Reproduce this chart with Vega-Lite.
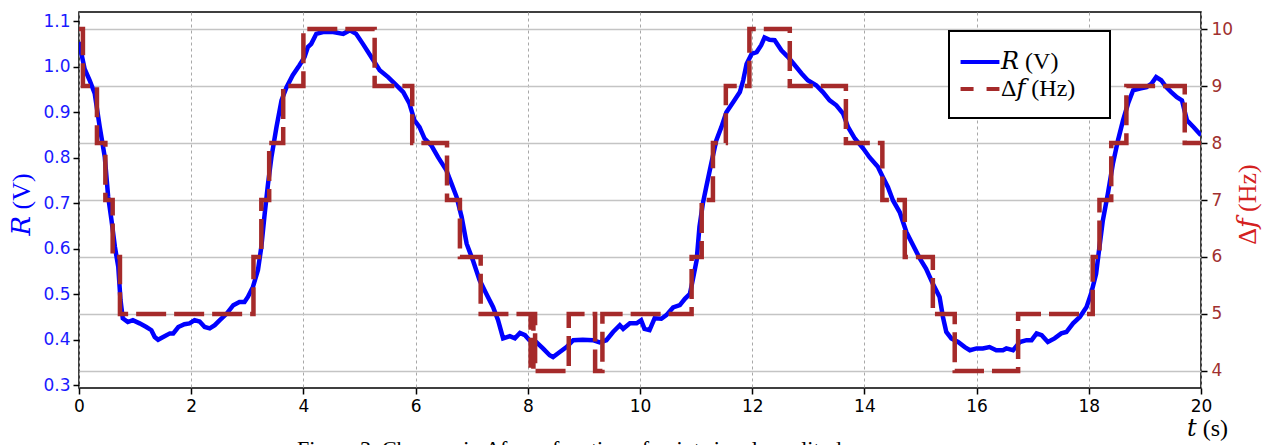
{
  "$schema": "https://vega.github.io/schema/vega-lite/v6.json",
  "width": 1122,
  "height": 376,
  "autosize": {"type": "none"},
  "padding": {"left": 79, "top": 12, "right": 66, "bottom": 57},
  "background": "white",
  "title": {
    "text": "Figure 3. Changes in Δf as a function of point signal amplitude",
    "orient": "bottom",
    "anchor": "start",
    "frame": "group",
    "font": "Liberation Serif",
    "fontSize": 22,
    "fontWeight": "normal",
    "color": "black",
    "baseline": "top",
    "dx": 218,
    "offset": -1
  },
  "config": {
    "view": {"stroke": "black", "strokeWidth": 1.5},
    "axis": {
      "labelFont": "DejaVu Sans",
      "labelFontSize": 17,
      "labelFlush": false,
      "tickColor": "black",
      "tickWidth": 1.5,
      "tickSize": 6,
      "domain": false,
      "titleFont": "Liberation Serif, DejaVu Serif",
      "titleFontWeight": "normal",
      "titleFontSize": 26
    }
  },
  "datasets": {
    "r": [
      {"t": 0.00, "R": 1.054}, {"t": 0.10, "R": 0.995}, {"t": 0.19, "R": 0.970}, {"t": 0.28, "R": 0.941},
      {"t": 0.37, "R": 0.867}, {"t": 0.46, "R": 0.801}, {"t": 0.52, "R": 0.714}, {"t": 0.58, "R": 0.662},
      {"t": 0.64, "R": 0.604}, {"t": 0.70, "R": 0.560}, {"t": 0.74, "R": 0.487}, {"t": 0.78, "R": 0.447},
      {"t": 0.87, "R": 0.439}, {"t": 0.96, "R": 0.443}, {"t": 1.08, "R": 0.436}, {"t": 1.20, "R": 0.428},
      {"t": 1.29, "R": 0.421}, {"t": 1.35, "R": 0.406}, {"t": 1.41, "R": 0.400}, {"t": 1.50, "R": 0.406},
      {"t": 1.62, "R": 0.414}, {"t": 1.68, "R": 0.414}, {"t": 1.77, "R": 0.428}, {"t": 1.88, "R": 0.434},
      {"t": 1.97, "R": 0.436}, {"t": 2.06, "R": 0.443}, {"t": 2.15, "R": 0.440}, {"t": 2.24, "R": 0.428},
      {"t": 2.33, "R": 0.425}, {"t": 2.42, "R": 0.432}, {"t": 2.51, "R": 0.443}, {"t": 2.63, "R": 0.457},
      {"t": 2.75, "R": 0.476}, {"t": 2.86, "R": 0.483}, {"t": 2.95, "R": 0.483}, {"t": 3.01, "R": 0.494},
      {"t": 3.10, "R": 0.516}, {"t": 3.19, "R": 0.553}, {"t": 3.25, "R": 0.604}, {"t": 3.31, "R": 0.677},
      {"t": 3.37, "R": 0.743}, {"t": 3.43, "R": 0.801}, {"t": 3.52, "R": 0.867}, {"t": 3.61, "R": 0.926},
      {"t": 3.70, "R": 0.955}, {"t": 3.81, "R": 0.981}, {"t": 3.93, "R": 1.003}, {"t": 4.02, "R": 1.021},
      {"t": 4.08, "R": 1.043}, {"t": 4.14, "R": 1.050}, {"t": 4.23, "R": 1.072}, {"t": 4.35, "R": 1.076},
      {"t": 4.53, "R": 1.076}, {"t": 4.71, "R": 1.072}, {"t": 4.83, "R": 1.080}, {"t": 4.94, "R": 1.072},
      {"t": 5.06, "R": 1.050}, {"t": 5.21, "R": 1.021}, {"t": 5.36, "R": 0.992}, {"t": 5.51, "R": 0.977},
      {"t": 5.66, "R": 0.959}, {"t": 5.78, "R": 0.944}, {"t": 5.89, "R": 0.919}, {"t": 5.98, "R": 0.882},
      {"t": 6.07, "R": 0.867}, {"t": 6.16, "R": 0.842}, {"t": 6.28, "R": 0.827}, {"t": 6.40, "R": 0.801},
      {"t": 6.55, "R": 0.772}, {"t": 6.64, "R": 0.743}, {"t": 6.73, "R": 0.714}, {"t": 6.82, "R": 0.670},
      {"t": 6.91, "R": 0.611}, {"t": 7.02, "R": 0.575}, {"t": 7.14, "R": 0.531}, {"t": 7.26, "R": 0.501},
      {"t": 7.38, "R": 0.472}, {"t": 7.47, "R": 0.443}, {"t": 7.56, "R": 0.403}, {"t": 7.68, "R": 0.408},
      {"t": 7.77, "R": 0.403}, {"t": 7.86, "R": 0.415}, {"t": 7.95, "R": 0.410}, {"t": 8.03, "R": 0.399},
      {"t": 8.15, "R": 0.395}, {"t": 8.27, "R": 0.381}, {"t": 8.39, "R": 0.366}, {"t": 8.45, "R": 0.362},
      {"t": 8.57, "R": 0.373}, {"t": 8.69, "R": 0.384}, {"t": 8.81, "R": 0.399}, {"t": 8.98, "R": 0.400},
      {"t": 9.16, "R": 0.399}, {"t": 9.28, "R": 0.394}, {"t": 9.40, "R": 0.399}, {"t": 9.52, "R": 0.417},
      {"t": 9.64, "R": 0.432}, {"t": 9.70, "R": 0.424}, {"t": 9.82, "R": 0.436}, {"t": 9.94, "R": 0.436},
      {"t": 10.02, "R": 0.443}, {"t": 10.08, "R": 0.424}, {"t": 10.17, "R": 0.421}, {"t": 10.26, "R": 0.447},
      {"t": 10.38, "R": 0.446}, {"t": 10.47, "R": 0.454}, {"t": 10.59, "R": 0.471}, {"t": 10.71, "R": 0.476},
      {"t": 10.80, "R": 0.490}, {"t": 10.89, "R": 0.501}, {"t": 10.94, "R": 0.531}, {"t": 11.01, "R": 0.575},
      {"t": 11.06, "R": 0.648}, {"t": 11.12, "R": 0.699}, {"t": 11.18, "R": 0.735}, {"t": 11.27, "R": 0.787},
      {"t": 11.36, "R": 0.838}, {"t": 11.45, "R": 0.867}, {"t": 11.54, "R": 0.900}, {"t": 11.66, "R": 0.922},
      {"t": 11.78, "R": 0.944}, {"t": 11.84, "R": 0.970}, {"t": 11.90, "R": 1.006}, {"t": 11.99, "R": 1.028},
      {"t": 12.08, "R": 1.032}, {"t": 12.16, "R": 1.047}, {"t": 12.22, "R": 1.064}, {"t": 12.31, "R": 1.059},
      {"t": 12.40, "R": 1.058}, {"t": 12.52, "R": 1.036}, {"t": 12.64, "R": 1.021}, {"t": 12.76, "R": 1.003},
      {"t": 12.88, "R": 0.985}, {"t": 12.99, "R": 0.970}, {"t": 13.14, "R": 0.959}, {"t": 13.26, "R": 0.944},
      {"t": 13.38, "R": 0.926}, {"t": 13.50, "R": 0.915}, {"t": 13.62, "R": 0.897}, {"t": 13.71, "R": 0.867},
      {"t": 13.83, "R": 0.842}, {"t": 13.98, "R": 0.820}, {"t": 14.09, "R": 0.801}, {"t": 14.24, "R": 0.780},
      {"t": 14.33, "R": 0.757}, {"t": 14.42, "R": 0.735}, {"t": 14.51, "R": 0.706}, {"t": 14.63, "R": 0.680},
      {"t": 14.75, "R": 0.636}, {"t": 14.87, "R": 0.607}, {"t": 14.99, "R": 0.578}, {"t": 15.10, "R": 0.556},
      {"t": 15.22, "R": 0.523}, {"t": 15.34, "R": 0.494}, {"t": 15.40, "R": 0.450}, {"t": 15.46, "R": 0.417},
      {"t": 15.55, "R": 0.403}, {"t": 15.67, "R": 0.395}, {"t": 15.79, "R": 0.384}, {"t": 15.88, "R": 0.377},
      {"t": 16.00, "R": 0.381}, {"t": 16.11, "R": 0.381}, {"t": 16.23, "R": 0.384}, {"t": 16.35, "R": 0.377},
      {"t": 16.47, "R": 0.377}, {"t": 16.53, "R": 0.381}, {"t": 16.65, "R": 0.377}, {"t": 16.77, "R": 0.395},
      {"t": 16.89, "R": 0.399}, {"t": 16.98, "R": 0.399}, {"t": 17.07, "R": 0.414}, {"t": 17.16, "R": 0.410},
      {"t": 17.27, "R": 0.395}, {"t": 17.39, "R": 0.403}, {"t": 17.51, "R": 0.414}, {"t": 17.60, "R": 0.417},
      {"t": 17.72, "R": 0.436}, {"t": 17.84, "R": 0.450}, {"t": 17.96, "R": 0.472}, {"t": 18.04, "R": 0.501},
      {"t": 18.13, "R": 0.545}, {"t": 18.19, "R": 0.604}, {"t": 18.25, "R": 0.662}, {"t": 18.34, "R": 0.721},
      {"t": 18.43, "R": 0.787}, {"t": 18.52, "R": 0.838}, {"t": 18.61, "R": 0.882}, {"t": 18.70, "R": 0.919},
      {"t": 18.79, "R": 0.948}, {"t": 18.91, "R": 0.952}, {"t": 19.03, "R": 0.955}, {"t": 19.12, "R": 0.963},
      {"t": 19.20, "R": 0.977}, {"t": 19.29, "R": 0.970}, {"t": 19.38, "R": 0.955}, {"t": 19.47, "R": 0.944},
      {"t": 19.57, "R": 0.933}, {"t": 19.66, "R": 0.926}, {"t": 19.75, "R": 0.882}, {"t": 19.87, "R": 0.867},
      {"t": 20.00, "R": 0.849}
    ],
    "f": [
      {"t": 0.00, "df": 10}, {"t": 0.07, "df": 9}, {"t": 0.32, "df": 8}, {"t": 0.47, "df": 7},
      {"t": 0.60, "df": 6}, {"t": 0.73, "df": 5}, {"t": 3.11, "df": 6}, {"t": 3.25, "df": 7},
      {"t": 3.39, "df": 8}, {"t": 3.64, "df": 9}, {"t": 4.00, "df": 10}, {"t": 5.27, "df": 9},
      {"t": 5.94, "df": 8}, {"t": 6.56, "df": 7}, {"t": 6.79, "df": 6}, {"t": 7.16, "df": 5},
      {"t": 8.05, "df": 4}, {"t": 8.10, "df": 5}, {"t": 8.13, "df": 4}, {"t": 8.73, "df": 5},
      {"t": 9.20, "df": 4}, {"t": 9.33, "df": 5}, {"t": 10.92, "df": 6}, {"t": 11.10, "df": 7},
      {"t": 11.30, "df": 8}, {"t": 11.53, "df": 9}, {"t": 11.95, "df": 10}, {"t": 12.67, "df": 9},
      {"t": 13.67, "df": 8}, {"t": 14.32, "df": 7}, {"t": 14.72, "df": 6}, {"t": 15.22, "df": 5},
      {"t": 15.61, "df": 4}, {"t": 16.74, "df": 5}, {"t": 18.07, "df": 6}, {"t": 18.19, "df": 7},
      {"t": 18.40, "df": 8}, {"t": 18.67, "df": 9}, {"t": 19.71, "df": 8}, {"t": 20.00, "df": 8}
    ]
  },
  "layer": [
    {
      "data": {"name": "r"},
      "mark": {"type": "line", "strokeWidth": 4.5, "clip": true},
      "encoding": {
        "x": {
          "field": "t", "type": "quantitative",
          "scale": {"domain": [0, 20], "nice": false, "zero": false},
          "axis": {
            "values": [0, 2, 4, 6, 8, 10, 12, 14, 16, 18, 20],
            "format": "d",
            "labelColor": "black",
            "labelPadding": 4,
            "grid": true,
            "gridDash": [3, 3],
            "gridColor": "#a8a8a8",
            "gridWidth": 1,
            "title": "𝑡 (s)",
            "titleColor": "black",
            "titleFontSize": 24,
            "titleX": 1128,
            "titleY": 40,
            "titleAlign": "center",
            "titleBaseline": "middle",
            "titleAnchor": null
          }
        },
        "y": {
          "field": "R", "type": "quantitative",
          "scale": {"domain": [0.294, 1.12], "nice": false, "zero": false},
          "axis": {
            "orient": "left",
            "values": [0.3, 0.4, 0.5, 0.6, 0.7, 0.8, 0.9, 1.0, 1.1],
            "format": ".1f",
            "labelColor": "#1a1aff",
            "labelPadding": 3,
            "grid": false,
            "title": "𝑅 (V)",
            "titleColor": "#0000ff",
            "titleX": -58,
            "titleY": 192,
            "titleAngle": 270,
            "titleAlign": "center",
            "titleBaseline": "middle"
          }
        },
        "color": {
          "datum": "𝑅 (V)",
          "type": "nominal",
          "scale": {"domain": ["𝑅 (V)", "Δ𝑓 (Hz)"], "range": ["#0000ff", "#a52a2a"]},
          "legend": {
            "title": null,
            "orient": "none",
            "legendX": 870,
            "legendY": 19,
            "padding": 17,
            "rowPadding": 1,
            "fillColor": "white",
            "strokeColor": "black",
            "cornerRadius": 0,
            "symbolType": "M-1.62,0H1.62",
            "symbolSize": 576,
            "symbolStrokeWidth": 4,
            "symbolOffset": 0,
            "labelFont": "Liberation Serif, DejaVu Serif",
            "labelFontSize": 24,
            "labelColor": "black",
            "labelOffset": 7,
            "labelExpr": "datum.label + '\u2800'",
            "encode": {
              "legend": {"update": {"strokeWidth": {"value": 2}}},
              "symbols": {"update": {"strokeDash": {"signal": "datum.value === 'Δ𝑓 (Hz)' ? [13, 13] : [1, 0]"}}}
            }
          }
        }
      }
    },
    {
      "data": {"name": "f"},
      "mark": {"type": "line", "interpolate": "step-after", "strokeWidth": 4.5, "strokeDash": [30, 8], "clip": true},
      "encoding": {
        "x": {"field": "t", "type": "quantitative"},
        "y": {
          "field": "df", "type": "quantitative",
          "scale": {"domain": [3.70, 10.30], "nice": false, "zero": false},
          "axis": {
            "orient": "right",
            "values": [4, 5, 6, 7, 8, 9, 10],
            "format": "d",
            "labelColor": "#a0302f",
            "labelPadding": 4,
            "grid": true,
            "gridColor": "#c4c4c4",
            "gridWidth": 1.5,
            "title": "Δ𝑓 (Hz)",
            "titleColor": "#d42020",
            "titleX": 46,
            "titleY": 192,
            "titleAngle": 270,
            "titleAlign": "center",
            "titleBaseline": "middle"
          }
        },
        "color": {"datum": "Δ𝑓 (Hz)", "type": "nominal"}
      }
    }
  ],
  "resolve": {"scale": {"y": "independent"}}
}
